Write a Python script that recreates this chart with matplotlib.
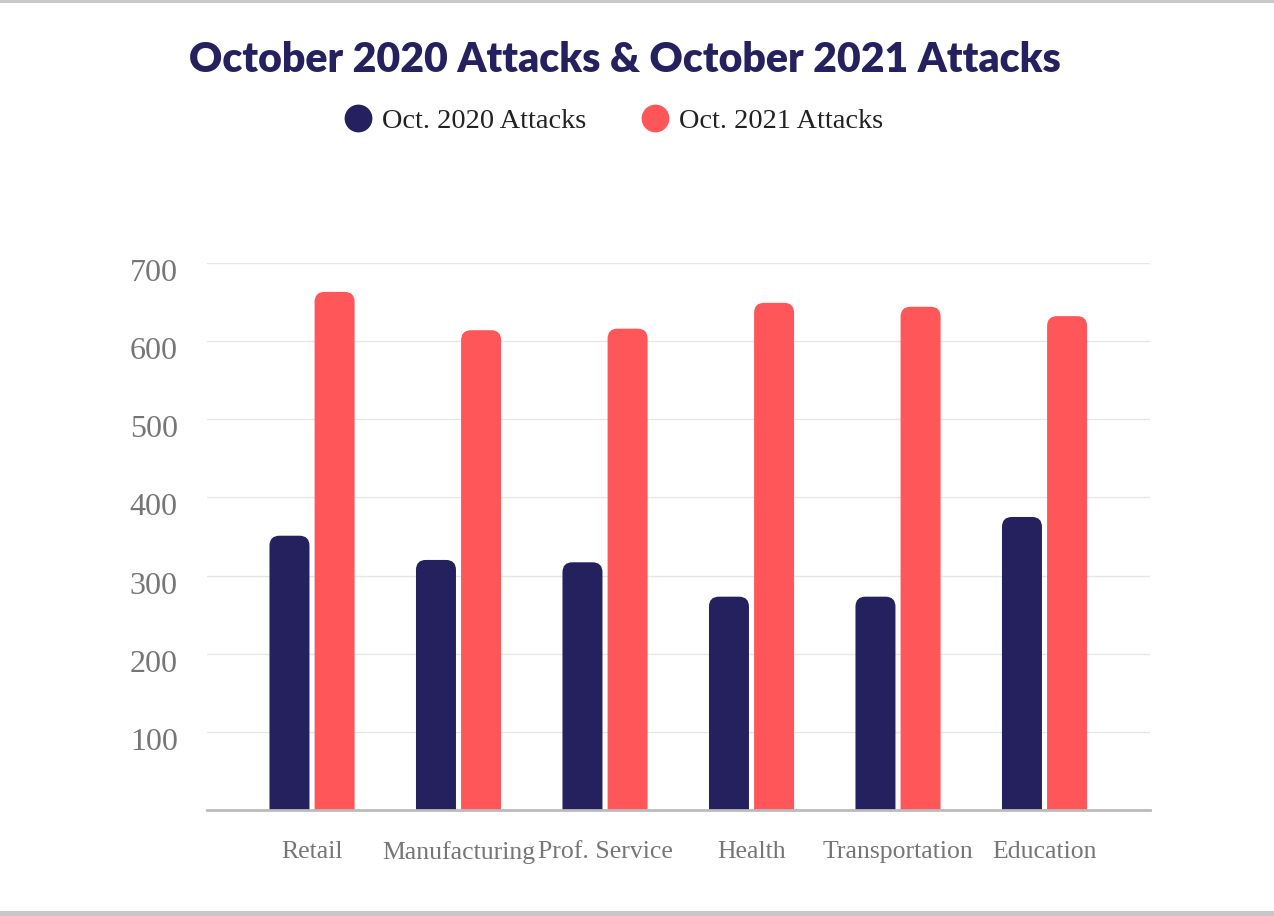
import matplotlib.pyplot as plt
import matplotlib.patches as patches
import matplotlib.transforms as mtransforms
from matplotlib.lines import Line2D
import numpy as np

categories = ['Retail', 'Manufacturing', 'Prof. Service', 'Health', 'Transportation', 'Education']
attacks_2020 = [351, 320, 317, 273, 273, 375]
attacks_2021 = [663, 614, 616, 649, 644, 632]
yticks = [100, 200, 300, 400, 500, 600, 700]

navy = '#25215e'
coral = '#ff5659'
gray_txt = '#767676'

fig = plt.figure(figsize=(12.74, 9.16), dpi=100)
ax = fig.add_axes([207 / 1274, 106 / 916, 943 / 1274, 547 / 916])

x = np.arange(len(categories))
w = 0.273
off = 0.154
ax.set_xlim(-0.717, 5.72)
ax.set_ylim(0, 700)

# rounded tops: aspect between y and x data units in pixels
fig.canvas.draw()
p0 = ax.transData.transform((0, 0))
p1 = ax.transData.transform((1, 1))
aspect = (p1[0] - p0[0]) / (p1[1] - p0[1])
r = 0.068


def rounded_bar(xc, h, color):
    bottom = -r * aspect * 1.5
    box = patches.FancyBboxPatch((xc - w / 2, bottom), w, h - bottom,
                                 boxstyle=f'round,pad=0,rounding_size={r}',
                                 mutation_aspect=aspect, facecolor=color,
                                 edgecolor='none', zorder=3)
    ax.add_patch(box)


for i in range(len(categories)):
    rounded_bar(x[i] - off, attacks_2020[i], navy)
    rounded_bar(x[i] + off, attacks_2021[i], coral)

ax.set_yticks(yticks)
ax.set_yticklabels([str(t) for t in yticks], fontsize=23, family='Liberation Serif', color=gray_txt)
ax.set_xticks(x)
ax.set_xticklabels(categories, fontsize=18.5, family='Liberation Serif', color=gray_txt)
ax.tick_params(axis='y', length=0, pad=21)
ax.tick_params(axis='x', length=0, pad=22)
# y labels sit a little below their gridlines
shift = mtransforms.ScaledTranslation(0, -7 / 100, fig.dpi_scale_trans)
for lab in ax.get_yticklabels():
    lab.set_transform(lab.get_transform() + shift)
ax.grid(axis='y', color='#e6e6e6', linewidth=1, zorder=0)
for s in ['top', 'right', 'left']:
    ax.spines[s].set_visible(False)
ax.spines['bottom'].set_color('#bbbbbb')
ax.spines['bottom'].set_linewidth(2)
ax.spines['bottom'].set_zorder(4)

fig.text(625 / 1274, 1 - 60 / 916, 'October 2020 Attacks & October 2021 Attacks',
         ha='center', va='center', fontsize=29.5, fontweight='heavy',
         family='Lato', color=navy)

handles = [Line2D([], [], marker='o', linestyle='none', markersize=19, color=navy),
           Line2D([], [], marker='o', linestyle='none', markersize=19, color=coral)]
fig.legend(handles, ['Oct. 2020 Attacks', 'Oct. 2021 Attacks'], loc='center',
           bbox_to_anchor=(612 / 1274, 1 - 121 / 916), ncol=2, frameon=False,
           prop={'family': 'Liberation Serif', 'size': 20.4}, handletextpad=0.25,
           columnspacing=1.8, handlelength=1.2, labelcolor='#222222')

# gray bands at top and bottom edges
fig.patches.append(patches.Rectangle((0, 1 - 3 / 916), 1, 3 / 916, transform=fig.transFigure,
                                     facecolor='#c8c8c8', edgecolor='none'))
fig.patches.append(patches.Rectangle((0, 0), 1, 5 / 916, transform=fig.transFigure,
                                     facecolor='#c8c8c8', edgecolor='none'))

fig.savefig('out.png', dpi=100)
